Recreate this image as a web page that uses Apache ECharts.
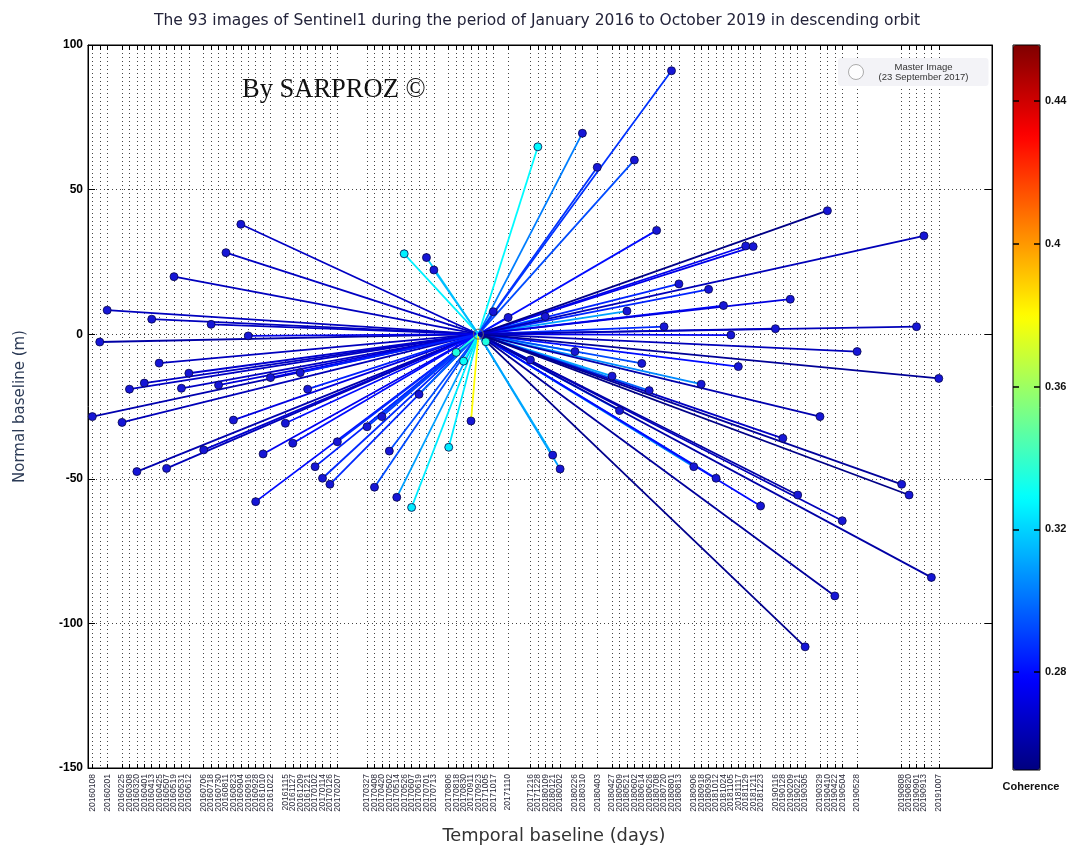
<!DOCTYPE html>
<html><head><meta charset="utf-8">
<script src="https://cdn.jsdelivr.net/npm/echarts@6/dist/echarts.min.js"></script>
<style>html,body{margin:0;padding:0;background:#fff}#chart{width:1074px;height:845px}</style>
</head><body><div id="chart"></div>
<script>
// ---------------- DATA ----------------
const masterDate = '20170923';
const masterBaseline = 0;
const slaveDates = [
 '20160108','20160120','20160201','20160225','20160308','20160320','20160401','20160413','20160425','20160507',
 '20160519','20160531','20160612','20160706','20160718','20160730','20160811','20160823','20160904','20160916',
 '20160928','20161010','20161022','20161115','20161127','20161209','20161221','20170102','20170114','20170126',
 '20170207','20170327','20170408','20170420','20170502','20170514','20170526','20170607','20170619','20170701',
 '20170713','20170806','20170818','20170830','20170911',
 '20171005','20171017','20171110','20171216','20171228','20180109','20180121','20180202','20180226','20180310',
 '20180403','20180427','20180509','20180521','20180602','20180614','20180626','20180708','20180720','20180801',
 '20180813','20180906','20180918','20180930','20181012','20181024','20181105','20181117','20181129','20181211',
 '20181223','20190116','20190128','20190209','20190221','20190305','20190329','20190410','20190422','20190504',
 '20190528','20190808','20190820','20190901','20190913','20190925','20191007'
];
const normalBaselines = [
 -28.5,-2.7,8.3,-30.5,-19,-47.5,-16.9,5.2,-10,-46.4,
 19.9,-18.7,-13.5,-40,3.4,-17.6,28.2,-29.7,38,-0.6,
 -57.9,-41.4,-15,-30.8,-37.7,-13.3,-19,-45.8,-49.8,-51.9,
 -37.2,-32,-52.9,-28.5,-40.4,-56.4,27.8,-59.9,-20.8,26.5,
 22.2,-39.1,-6.3,-9.3,-30,
 -2.6,7.8,5.8,-8.9,64.8,6.1,-41.8,-46.6,-6,69.5,
 57.7,-14.5,-26.4,8,60.2,-10.1,-19.5,35.9,2.6,91.1,
 17.4,-45.8,-17.3,15.5,-49.8,9.9,-0.3,-11.2,30.5,30.3,
 -59.4,1.9,-36,12.1,-55.6,-108.1,-28.5,42.7,-90.5,-64.5,
 -6,-51.9,-55.6,2.6,34,-84.1,-15.3
];
const coherence = [
 0.262,0.26,0.265,0.264,0.266,0.262,0.266,0.265,0.265,0.264,
 0.265,0.266,0.268,0.268,0.266,0.27,0.266,0.272,0.266,0.274,
 0.28,0.275,0.274,0.28,0.28,0.284,0.284,0.284,0.286,0.286,
 0.286,0.29,0.293,0.29,0.293,0.31,0.326,0.325,0.298,0.32,
 0.315,0.325,0.335,0.33,0.38,
 0.335,0.31,0.288,0.288,0.328,0.315,0.315,0.31,0.32,0.303,
 0.288,0.31,0.298,0.31,0.293,0.293,0.298,0.28,0.286,0.288,
 0.285,0.305,0.305,0.285,0.286,0.28,0.275,0.28,0.274,0.274,
 0.28,0.27,0.266,0.272,0.26,0.255,0.262,0.254,0.258,0.264,
 0.264,0.258,0.254,0.264,0.264,0.26,0.257
];
const yTicks = [-150,-100,-50,0,50,100];
const colorbarTicks = [0.28,0.32,0.36,0.40,0.44];
const axisStartDate = '20160101', axisEndDate = '20200101';
const cohMin = 0.2526, cohMax = 0.4557;

// ---------------- HELPERS ----------------
function toDays(s){
  return (Date.UTC(+s.slice(0,4), +s.slice(4,6)-1, +s.slice(6,8)) - Date.UTC(2016,0,1)) / 86400000;
}
function clamp(v){ return Math.max(0, Math.min(1, v)); }
function jet(v){
  const t = clamp((v - cohMin) / (cohMax - cohMin));
  const r = clamp(1.5 - Math.abs(4*t - 3)), g = clamp(1.5 - Math.abs(4*t - 2)), b = clamp(1.5 - Math.abs(4*t - 1));
  return 'rgb(' + Math.round(r*255) + ',' + Math.round(g*255) + ',' + Math.round(b*255) + ')';
}
const tickDates = slaveDates.concat([masterDate]).sort();
const tickDays = tickDates.map(toDays);
const dayToLabel = {};
tickDates.forEach(d => { dayToLabel[toDays(d)] = d; });
const xMin = toDays(axisStartDate), xMax = toDays(axisEndDate);
const mx = toDays(masterDate);

const lineData = slaveDates.map((d, i) => ({
  coords: [[mx, masterBaseline], [toDays(d), normalBaselines[i]]],
  lineStyle: { color: jet(coherence[i]) }
}));
const pointData = slaveDates.map((d, i) => [toDays(d), normalBaselines[i], coherence[i]]);

const dotted = { color: '#444', width: 1, type: [1, 3] };
const fontSans = '"Liberation Sans", Arial, sans-serif';
const fontWide = '"DejaVu Sans", Verdana, sans-serif';

const chart = echarts.init(document.getElementById('chart'), null, { renderer: 'canvas' });
chart.setOption({
  backgroundColor: '#fff',
  animation: false,
  title: [
    { text: 'The 93 images of Sentinel1 during the period of January 2016 to October 2019 in descending orbit',
      left: 'center', top: 8, textStyle: { fontFamily: fontWide, fontSize: 15.5, fontWeight: 'normal', color: '#23233a' } },
    { text: 'By SARPROZ ©', left: 237, top: 72,
      textStyle: { fontFamily: '"Liberation Serif", "DejaVu Serif", serif', fontSize: 26.5, fontWeight: 'normal', color: '#111' } },
    { text: 'Coherence', left: 1026, top: 776, textAlign: 'center',
      textStyle: { fontFamily: fontSans, fontSize: 11, fontWeight: 'bold', color: '#111' } }
  ],
  legend: {
    data: [{ name: 'Master Image', icon: 'circle', itemStyle: { color: '#fff', borderColor: '#999', borderWidth: 1 } }],
    left: 838, top: 58, itemWidth: 15, itemHeight: 15, itemGap: 6,
    backgroundColor: '#f3f3f7', borderRadius: 3, padding: [4, 10, 4, 10],
    formatter: () => '{a|Master Image}\n{a|(23 September 2017)}',
    textStyle: { rich: { a: { fontFamily: fontSans, fontSize: 9.5, color: '#333', width: 110, align: 'center', lineHeight: 10 } } }
  },
  visualMap: {
    type: 'continuous', min: cohMin, max: cohMax, seriesIndex: 3, dimension: 0,
    calculable: false, hoverLink: false, text: null, padding: 0, z: 1,
    left: 1013, top: 45, itemWidth: 27, itemHeight: 725, orient: 'vertical',
    inRange: { color: ['#000080','#0000ff','#0080ff','#00ffff','#80ff80','#ffff00','#ff8000','#ff0000','#800000'] },
    textStyle: { color: 'transparent' }
  },
  grid: [
    { left: 88, top: 45, width: 904, height: 723, show: true, borderColor: '#000', borderWidth: 1,
      backgroundColor: 'transparent', outerBoundsMode: 'none', containLabel: false },
    { left: 1013, top: 45, width: 27, height: 725, show: true, borderColor: '#000', borderWidth: 1,
      backgroundColor: 'transparent', z: 6, outerBoundsMode: 'none', containLabel: false }
  ],
  xAxis: [
    { type: 'value', gridIndex: 0, min: xMin, max: xMax, position: 'bottom',
      name: 'Temporal baseline (days)', nameLocation: 'middle', nameGap: 59,
      nameTextStyle: { fontFamily: fontWide, fontSize: 17.8, color: '#333', padding: [0, 0, 0, 28] },
      axisLine: { onZero: false, lineStyle: { color: '#000' } },
      axisTick: { inside: true, length: 4, customValues: tickDays, lineStyle: { color: '#000' } },
      axisLabel: { customValues: tickDays, rotate: 90, margin: 6, fontSize: 8.5, fontFamily: fontSans, color: '#2a2a3a',
        showMinLabel: true, showMaxLabel: true, hideOverlap: false,
        formatter: v => dayToLabel[v] || '' },
      splitLine: { show: true, lineStyle: dotted } },
    { type: 'value', gridIndex: 0, min: xMin, max: xMax, position: 'top',
      axisLine: { onZero: false, lineStyle: { color: '#000' } },
      axisTick: { inside: true, length: 5, customValues: tickDays, lineStyle: { color: '#000' } },
      axisLabel: { show: false }, splitLine: { show: false } },
    { type: 'value', gridIndex: 1, min: 0, max: 1, show: false }
  ],
  yAxis: [
    { type: 'value', gridIndex: 0, min: -150, max: 100, interval: 50,
      name: 'Normal baseline (m)', nameLocation: 'middle', nameGap: 60, nameRotate: 90,
      nameTextStyle: { fontFamily: fontWide, fontSize: 15, color: '#2b3a55' },
      axisLine: { show: true, onZero: false, lineStyle: { color: '#000' } },
      axisTick: { show: true, inside: true, length: 7, lineStyle: { color: '#000' } },
      axisLabel: { fontFamily: fontSans, fontSize: 12, fontWeight: 'bold', color: '#000', margin: 5 },
      splitLine: { show: true, lineStyle: dotted } },
    { type: 'value', gridIndex: 0, min: -150, max: 100, interval: 50, position: 'right',
      axisLine: { show: true, onZero: false, lineStyle: { color: '#000' } },
      axisTick: { show: true, inside: true, length: 7, lineStyle: { color: '#000' } },
      axisLabel: { show: false }, splitLine: { show: false } },
    { type: 'value', gridIndex: 1, min: cohMin, max: cohMax, position: 'right', z: 6,
      axisLine: { show: false, onZero: false },
      axisTick: { show: true, inside: true, length: 6, customValues: colorbarTicks, lineStyle: { color: '#000', width: 1.5 } },
      axisLabel: { customValues: colorbarTicks, margin: 5, fontFamily: fontSans, fontSize: 11, fontWeight: 'bold', color: '#111',
        showMinLabel: true, showMaxLabel: true,
        formatter: v => String(+v.toFixed(2)) },
      splitLine: { show: false } },
    { type: 'value', gridIndex: 1, min: cohMin, max: cohMax, position: 'left', z: 6,
      axisLine: { show: false, onZero: false },
      axisTick: { show: true, inside: true, length: 6, customValues: colorbarTicks, lineStyle: { color: '#000', width: 1.5 } },
      axisLabel: { show: false }, splitLine: { show: false } }
  ],
  series: [
    { type: 'lines', name: 'baselines', coordinateSystem: 'cartesian2d', xAxisIndex: 0, yAxisIndex: 0,
      polyline: false, lineStyle: { width: 1.8, opacity: 1 }, data: lineData, z: 2, silent: true },
    { type: 'scatter', name: 'images', xAxisIndex: 0, yAxisIndex: 0, symbol: 'circle', symbolSize: 8, z: 3,
      data: pointData,
      itemStyle: {
        color: p => (p.value[2] >= 0.325 && p.value[2] < 0.36) ? jet(p.value[2]) : '#1616d6',
        borderColor: '#06064a', borderWidth: 0.8, opacity: 1 } },
    { type: 'scatter', name: 'Master Image', xAxisIndex: 0, yAxisIndex: 0, symbol: 'circle', symbolSize: 10, z: 4,
      data: [[mx, masterBaseline]],
      itemStyle: { color: 'rgba(255,255,255,0)', borderColor: '#666', borderWidth: 1.2 } },
    { type: 'scatter', name: 'cb-dummy', xAxisIndex: 2, yAxisIndex: 2, data: [] }
  ]
});
</script>
</body></html>
